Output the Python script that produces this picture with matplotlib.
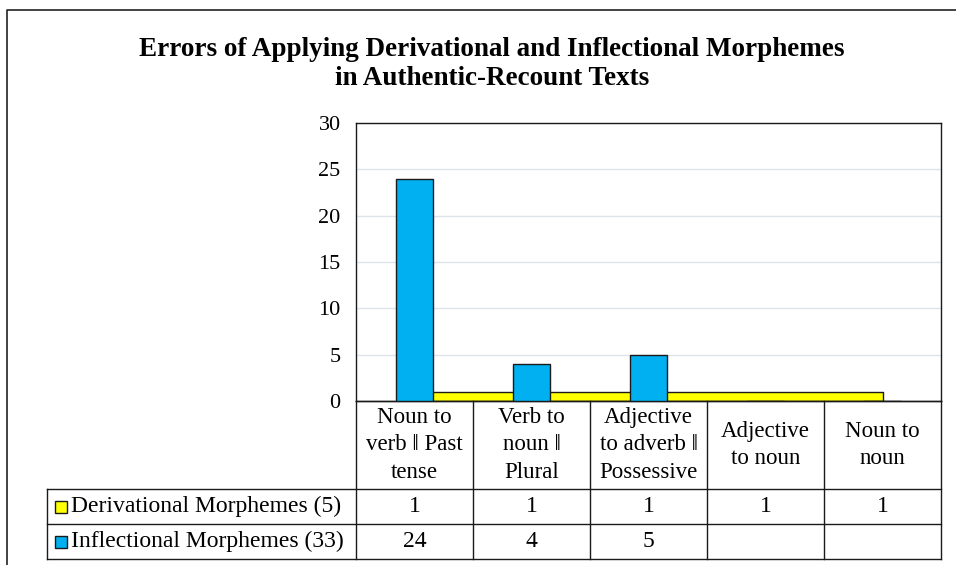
import matplotlib.pyplot as plt
import numpy as np
from matplotlib.patches import Rectangle

# data
categories = ["Noun to\nverb \u2016 Past\ntense", "Verb to\nnoun \u2016\nPlural",
              "Adjective\nto adverb \u2016\nPossessive", "Adjective\nto noun", "Noun to\nnoun"]
derivational = [1, 1, 1, 1, 1]
inflectional = [24, 4, 5, None, None]
series_names = ["Derivational Morphemes (5)", "Inflectional Morphemes (33)"]
yticks = [0, 5, 10, 15, 20, 25, 30]
title = "Errors of Applying Derivational and Inflectional Morphemes\nin Authentic-Recount Texts"

YELLOW = "#ffff00"
BLUE = "#00b0f0"
EDGE = "#1a1a1a"
W, H = 956, 565

plt.rcParams['font.family'] = ['Liberation Serif', 'DejaVu Serif']

fig = plt.figure(figsize=(W / 100, H / 100), dpi=100)

# background frame (pixel coords)
bg = fig.add_axes([0, 0, 1, 1])
bg.set_xlim(0, W)
bg.set_ylim(H, 0)
bg.axis('off')
bg.plot([7, 7, W + 5], [H + 5, 10, 10], color="#222222", lw=1.2)

# plot area
L, R, T, B = 356, 941, 123, 401
ax = fig.add_axes([L / W, 1 - B / H, (R - L) / W, (B - T) / H])
x = np.arange(len(categories))
ax.set_xlim(-0.5, len(categories) - 0.5)
ax.set_ylim(0, 30)
ax.set_yticks(yticks)
ax.grid(axis='y', color="#dce3ea", lw=1)
ax.set_axisbelow(True)
for s in ax.spines.values():
    s.set_color(EDGE)
    s.set_linewidth(1.0)
ax.tick_params(axis='y', length=0, pad=11, labelsize=16)
ax.tick_params(axis='x', length=0, labelbottom=False)

# derivational series drawn as an area, inflectional as bars
ax.fill_between(x, 0, derivational, facecolor=YELLOW, edgecolor=EDGE, lw=1.0, zorder=2)
infl = np.array([v if v is not None else 0 for v in inflectional], dtype=float)
ax.bar(x, infl, width=0.32, color=BLUE, edgecolor=EDGE, lw=1.0, zorder=3)

fig.text(492 / W, 1 - 64 / H, title, ha='center', va='center', fontsize=19.5,
         fontweight='bold', linespacing=1.2)

# data table under the axis
tr = ax.get_xaxis_transform()
def ay(py):
    return (B - py) / (B - T)

x_left = (47 - L) / ((R - L) / len(categories)) - 0.5
edges = np.arange(len(categories) + 1) - 0.5
rows_y = [401, 489, 524, 559]
lk = dict(color=EDGE, lw=1.0, clip_on=False, transform=tr)
# horizontal lines
ax.plot([edges[0], edges[-1]], [ay(401), ay(401)], **lk)
for py in rows_y[1:]:
    ax.plot([x_left, edges[-1]], [ay(py), ay(py)], **lk)
# vertical lines
for e in edges:
    ax.plot([e, e], [ay(401), ay(559)], **lk)
ax.plot([x_left, x_left], [ay(489), ay(559)], **lk)

for i, c in enumerate(categories):
    ax.text(x[i], ay(445), c, transform=tr, ha='center', va='center',
            fontsize=16.5, linespacing=1.4)

rows = [derivational, inflectional]
colors = [YELLOW, BLUE]
for r, (vals, name, col) in enumerate(zip(rows, series_names, colors)):
    cy = (rows_y[r + 1] + rows_y[r + 2]) / 2
    for i, v in enumerate(vals):
        if v is not None:
            ax.text(x[i], ay(cy), str(v), transform=tr, ha='center', va='center', fontsize=17)
    bg.add_patch(Rectangle((55, cy - 6), 12, 12, facecolor=col, edgecolor=EDGE, lw=1.0))
    bg.text(71, cy, name, ha='left', va='center', fontsize=17)

fig.savefig("out.png", dpi=100)
